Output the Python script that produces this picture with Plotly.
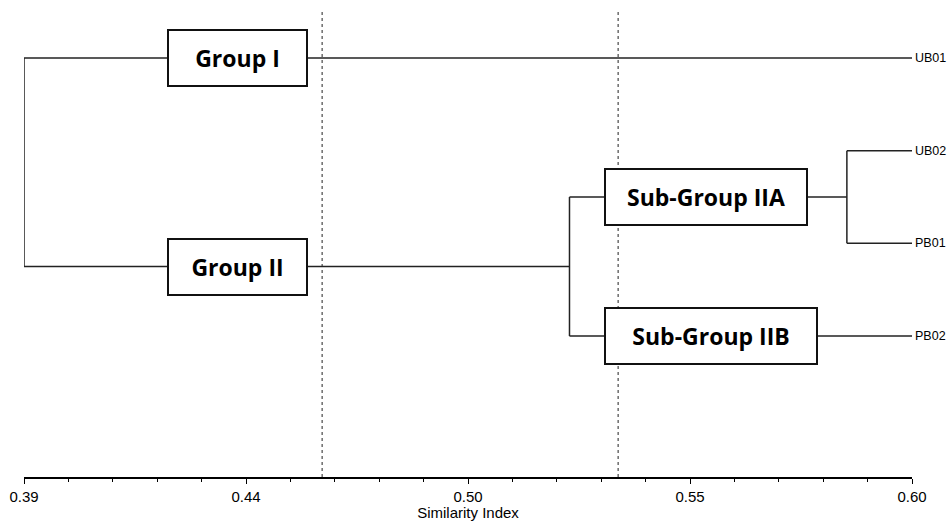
import numpy as np
import plotly.graph_objects as go

# ---- data ----
leaves = ["UB01", "UB02", "PB01", "PB02"]
leaf_y = [4, 3, 2, 1]
leaf_sim = 0.60
root_sim = 0.39          # Group I vs Group II
group2_sim = 0.519       # Sub-Group IIA vs IIB
subIIA_sim = 0.5846      # UB02 vs PB01
cut_lines = [0.4605, 0.5305]
box_labels = ["Group I", "Group II", "Sub-Group IIA", "Sub-Group IIB"]
box_x = [0.4405, 0.4405, 0.5513, 0.5525]
box_w = [135, 135, 198, 208]
tick_vals = list(np.linspace(0.39, 0.60, 5))
tick_text = ["0.39", "0.44", "0.50", "0.55", "0.60"]
minor_vals = list(np.linspace(0.39, 0.60, 21))

# ---- tree geometry from data ----
y_UB01, y_UB02, y_PB01, y_PB02 = leaf_y
y_IIA = (y_UB02 + y_PB01) / 2
y_G2 = (y_IIA + y_PB02) / 2
y_G1 = y_UB01

xs, ys = [], []
def seg(x0, y0, x1, y1):
    xs.extend([x0, x1, None]); ys.extend([y0, y1, None])

seg(root_sim, y_G1, root_sim, y_G2)
seg(root_sim, y_G1, leaf_sim, y_G1)
seg(root_sim, y_G2, group2_sim, y_G2)
seg(group2_sim, y_IIA, group2_sim, y_PB02)
seg(group2_sim, y_IIA, subIIA_sim, y_IIA)
seg(group2_sim, y_PB02, leaf_sim, y_PB02)
seg(subIIA_sim, y_UB02, subIIA_sim, y_PB01)
seg(subIIA_sim, y_UB02, leaf_sim, y_UB02)
seg(subIIA_sim, y_PB01, leaf_sim, y_PB01)

FONT_AX = "Liberation Sans, Arial, sans-serif"

fig = go.Figure()
fig.add_trace(go.Scatter(x=xs, y=ys, mode="lines",
                         line=dict(color="#222222", width=1.5),
                         hoverinfo="skip", showlegend=False, cliponaxis=False))

for c in cut_lines:
    fig.add_shape(type="line", x0=c, x1=c, xref="x", yref="paper", y0=0, y1=1,
                  line=dict(color="#222222", width=1, dash="dot"), layer="below")

box_y = [y_G1, y_G2, y_IIA, y_PB02]
for lab, bx, by, bw in zip(box_labels, box_x, box_y, box_w):
    fig.add_annotation(x=bx, y=by, text=f"<b>{lab}</b>", showarrow=False,
                       font=dict(family="Open Sans, Lato, sans-serif", size=23, color="black"),
                       bgcolor="white", bordercolor="#111111", borderwidth=2,
                       width=bw, height=52, align="center")

for lab, ly in zip(leaves, leaf_y):
    fig.add_annotation(x=leaf_sim, y=ly, text=lab, showarrow=False, xanchor="left",
                       xshift=1, font=dict(family=FONT_AX, size=12.5, color="black"))

fig.update_layout(
    width=949, height=521,
    margin=dict(l=24, r=37, t=10, b=44, autoexpand=False),
    paper_bgcolor="white", plot_bgcolor="white",
    xaxis=dict(range=[0.39, 0.60], showgrid=False, zeroline=False, automargin=False,
               showline=True, linecolor="black", linewidth=1.5,
               ticks="outside", ticklen=5, tickwidth=1.3, tickcolor="black",
               tickmode="array", tickvals=tick_vals, ticktext=tick_text,
               minor=dict(tickmode="array", tickvals=minor_vals, ticks="outside",
                          ticklen=3, tickcolor="black", tickwidth=1, showgrid=False),
               tickfont=dict(family=FONT_AX, size=15, color="black"),
               title=dict(text="Similarity Index", standoff=3,
                          font=dict(family=FONT_AX, size=15, color="black"))),
    yaxis=dict(range=[-0.521, 4.518], visible=False, showgrid=False, zeroline=False,
               automargin=False),
)

fig.write_html("out.html", config={"displayModeBar": False},
               post_script="document.body.style.margin='0';document.body.style.overflow='hidden';")
